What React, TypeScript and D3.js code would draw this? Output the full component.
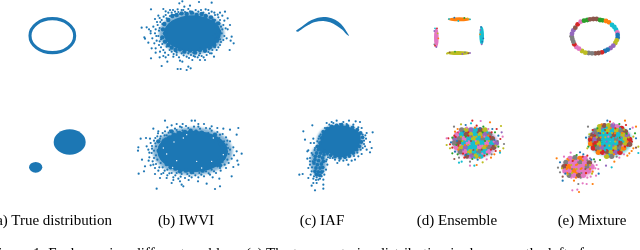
import React from "react";
import * as d3 from "d3";

type Pt = number[];

const BLUE = "#1f77b4";
const tab10 = d3.schemeCategory10;

// captions under each column
const captions = ["(a) True distribution", "(b) IWVI", "(c) IAF", "(d) Ensemble", "(e) Mixture"];
const figureNote = "Figure 1: Each row is a different problem. (a) The true posterior distribution is shown on the left of";

// (a) true distribution: [cx, cy, rx, ry]
const trueRing = [157, 107, 67, 51];
const trueBlobs = [
  [209, 51, 48, 38],
  [107, 127, 20, 16],
];

// (b) IWVI
const iwviTopHalo = [170, 100, 98, 64];
const iwviTopCore = [172, 100, 86, 54];
const iwviTopClumps: Pt[] = [
  [100, 60], [88, 72], [84, 88], [90, 100], [82, 112], [90, 125], [100, 135], [110, 143], [122, 150], [135, 148],
  [148, 155], [165, 152], [180, 158], [195, 150], [210, 152], [225, 142], [238, 135], [246, 120], [240, 108], [252, 95],
  [245, 82], [250, 70], [235, 62], [228, 52], [212, 48], [200, 42], [185, 45], [170, 38], [155, 42], [140, 40],
  [125, 45], [112, 48],
];
const iwviTopDots: Pt[] = [
  [48, 28], [20, 83], [35, 82], [28, 112], [30, 116], [40, 128], [48, 175], [80, 198], [128, 207], [137, 207],
  [160, 200], [167, 205], [155, 210], [133, 10], [142, 4], [192, 6], [230, 8], [148, 20], [165, 17], [255, 38],
  [270, 35], [262, 47], [278, 55], [285, 75], [272, 85], [278, 88], [290, 110], [275, 115], [287, 122], [296, 130],
  [284, 150], [237, 170], [195, 180], [210, 180], [172, 180], [142, 185], [135, 182], [97, 185], [74, 172], [85, 168],
  [62, 158], [50, 145], [42, 88], [60, 57], [70, 47], [85, 27], [105, 30], [120, 35], [140, 30], [160, 27],
  [190, 35], [220, 30], [230, 35], [240, 45], [55, 80], [47, 93], [47, 100], [60, 100], [52, 115], [65, 122],
  [72, 135], [85, 150], [100, 165], [115, 170], [155, 170], [180, 170], [200, 168], [225, 160], [245, 150], [255, 135],
  [265, 120], [260, 100], [265, 75], [255, 60], [245, 70], [80, 60], [92, 45], [110, 38], [128, 28], [150, 36],
  [175, 40], [205, 38], [215, 48], [228, 52], [240, 60], [250, 85], [255, 95], [248, 110], [255, 118], [240, 128],
  [235, 140], [222, 148], [210, 155], [195, 160], [175, 158], [160, 160], [140, 160], [125, 158], [110, 155], [95, 140],
  [82, 132], [78, 118], [70, 108], [72, 92], [68, 75], [82, 72], [95, 55], [105, 48], [118, 45], [135, 42],
  [58, 130], [62, 145], [75, 155], [92, 172], [125, 165], [168, 165], [188, 172], [215, 165], [232, 150], [248, 125],
  [76, 66], [74, 84], [62, 88], [64, 108], [74, 124], [78, 142], [90, 158], [104, 150], [116, 162], [132, 172],
  [146, 166], [162, 174], [176, 168], [192, 166], [206, 172], [220, 156], [230, 160], [240, 142], [250, 142], [258, 126],
  [268, 108], [262, 88], [258, 80], [268, 62], [250, 52], [238, 38], [222, 40], [198, 30], [182, 30], [165, 34],
  [145, 30], [130, 36], [114, 30], [100, 38], [86, 50], [74, 54], [92, 34], [212, 28], [248, 44], [66, 66],
];

const iwviBottomHalo = [188, 100, 120, 72];
const iwviBottomCore = [188, 100, 106, 62];
const iwviBottomClumps: Pt[] = [
  [100, 72], [92, 85], [86, 98], [92, 112], [100, 125], [110, 138], [122, 148], [136, 152], [150, 160], [168, 158],
  [185, 162], [200, 155], [218, 158], [235, 148], [250, 140], [265, 130], [275, 118], [282, 105], [278, 90], [272, 78],
  [258, 68], [245, 58], [232, 50], [215, 44], [198, 42], [182, 38], [165, 42], [148, 45], [132, 50], [118, 58],
  [108, 64], [270, 142], [125, 40], [85, 70], [255, 50],
];
const iwviBottomDots: Pt[] = [
  [105, 8], [185, 8], [195, 8], [140, 18], [158, 18], [205, 18], [222, 18], [70, 32], [85, 40], [32, 62],
  [48, 60], [60, 62], [25, 88], [24, 98], [50, 85], [36, 125], [45, 145], [42, 160], [26, 167], [75, 168],
  [90, 180], [80, 212], [125, 195], [150, 190], [155, 200], [160, 205], [204, 190], [230, 197], [255, 213], [270, 205],
  [268, 182], [305, 175], [310, 147], [325, 140], [322, 128], [320, 100], [335, 107], [325, 30], [320, 50], [300, 35],
  [280, 32], [310, 88], [262, 30], [245, 25], [112, 28], [125, 22], [98, 45], [82, 55], [72, 68], [62, 75],
  [55, 95], [65, 105], [58, 118], [68, 130], [62, 142], [75, 150], [85, 158], [100, 165], [112, 172], [130, 178],
  [145, 182], [165, 180], [185, 178], [205, 178], [222, 175], [240, 170], [258, 165], [272, 158], [288, 150], [296, 135],
  [305, 122], [296, 108], [312, 112], [300, 95], [290, 80], [300, 70], [288, 58], [278, 48], [262, 42], [245, 38],
  [228, 30], [210, 32], [192, 26], [175, 30], [155, 28], [135, 32], [120, 38], [105, 40], [92, 55], [85, 70],
  [78, 85], [72, 98], [78, 112], [82, 125], [92, 135], [98, 148], [112, 155], [125, 165], [140, 165], [155, 168],
  [172, 168], [190, 165], [208, 165], [228, 160], [245, 155], [262, 145], [278, 132], [285, 118], [282, 100], [275, 85],
  [282, 70], [268, 60], [255, 52], [235, 45], [218, 42], [198, 38], [178, 40], [158, 38], [142, 42], [128, 48],
  [110, 52], [100, 65], [92, 82], [88, 100], [95, 118], [105, 132], [120, 145], [135, 152], [250, 140], [268, 118],
  [150, 26], [168, 24], [205, 26], [240, 32], [270, 50], [292, 68], [294, 90], [290, 105], [292, 125], [284, 140],
  [270, 150], [252, 160], [236, 166], [214, 170], [196, 172], [178, 174], [152, 176], [136, 172], [118, 166], [104, 158],
  [88, 148], [78, 138], [72, 120], [66, 92], [76, 76], [90, 62], [104, 52], [116, 44], [140, 36], [76, 60],
  [84, 46], [66, 84], [58, 104], [56, 128], [70, 140], [94, 168], [110, 180], [130, 186], [176, 186], [248, 178],
];
const iwviBottomFlecks: Pt[] = [[132, 72], [140, 128], [245, 130], [110, 108], [250, 60], [128, 148], [200, 130], [160, 60], [100, 90], [280, 110], [215, 150], [170, 50]];

// (c) IAF: hand-read outlines of the dense parts, then the loose points
const iafArc: Pt[] = [
  [33, 78], [50, 65], [70, 50], [90, 41], [115, 36], [140, 40], [160, 50], [175, 65], [185, 80], [192, 92],
  [186, 89], [172, 74], [155, 62], [135, 52], [115, 48], [90, 51], [70, 60], [52, 71], [38, 80],
];
const iafBodyHalo = [150, 70, 70, 52];
const iafTailHalo = [85, 130, 24, 46];
const iafBody: Pt[] = [
  [98, 45], [118, 26], [150, 22], [186, 30], [208, 44], [212, 66], [202, 92], [180, 110], [150, 118], [126, 110],
  [106, 98], [86, 92], [92, 65],
];
const iafClumps: Pt[] = [
  [95, 60], [90, 75], [82, 85], [100, 42], [112, 32], [125, 25], [140, 22], [155, 20], [172, 24], [188, 28],
  [202, 35], [212, 45], [218, 58], [214, 72], [208, 85], [200, 95], [190, 105], [178, 114], [165, 118], [150, 120],
  [135, 116], [122, 112], [112, 105], [100, 100],
  [85, 95], [95, 95], [105, 100], [80, 105], [92, 105], [102, 110], [76, 115], [88, 115], [98, 120], [75, 125],
  [86, 128], [100, 130], [72, 135], [82, 140], [94, 138], [78, 150], [90, 150], [98, 148], [75, 160], [85, 162],
  [95, 162], [80, 170], [90, 172],
];
const iafDots: Pt[] = [
  [67, 22], [40, 40], [45, 65], [70, 62], [62, 75], [72, 75], [55, 97], [52, 100], [75, 90], [65, 105],
  [60, 120], [52, 122], [28, 170], [38, 168], [55, 180], [70, 195], [80, 195], [100, 200], [100, 212], [75, 217],
  [65, 203], [85, 185], [100, 185], [103, 170], [95, 175], [60, 140], [55, 150], [65, 160], [62, 170], [72, 175],
  [80, 178], [110, 15], [125, 12], [140, 8], [160, 12], [177, 8], [197, 10], [210, 12], [215, 30], [230, 45],
  [248, 43], [228, 62], [240, 72], [222, 78], [245, 90], [230, 95], [240, 103], [225, 85], [212, 95], [215, 108],
  [205, 115], [195, 125], [185, 128], [175, 140], [160, 128], [142, 135], [135, 125], [120, 120], [112, 110], [130, 15],
  [150, 18], [118, 20], [105, 30], [98, 40], [88, 55], [82, 70], [218, 50], [215, 70], [208, 85], [110, 125],
  [112, 140], [108, 155], [68, 130], [66, 148], [86, 172], [76, 168], [100, 160], [190, 20], [205, 28], [170, 18],
  [226, 52], [222, 68], [218, 90], [202, 104], [192, 114], [170, 126], [148, 128], [128, 120], [114, 118], [108, 130],
  [90, 182], [78, 186], [70, 182], [60, 130], [68, 110], [74, 96], [86, 62], [92, 50],
];

// (d) Ensemble: [x, y, colour index]
const ensembleBars = [
  [103, 43, 35, 6, 1],
  [34, 98, 7, 30, 6],
  [170, 92, 7, 28, 9],
  [100, 144, 36, 6, 8],
];
const ensembleTopDots: Pt[] = [
  [72, 42, 9], [135, 43, 9], [100, 48, 9], [88, 38, 0], [118, 39, 2], [128, 40, 8],
  [30, 70, 9], [36, 70, 3], [28, 78, 4], [38, 85, 8], [40, 100, 1], [28, 118, 7], [34, 126, 4], [30, 122, 3],
  [168, 66, 0], [166, 75, 4], [165, 88, 1], [172, 110, 0], [170, 118, 4], [175, 100, 0],
  [66, 146, 8], [74, 142, 5], [130, 145, 5], [135, 144, 4], [120, 142, 7], [112, 147, 4], [90, 140, 2],
];
const ensembleHalo = [120, 84, 68, 46, 4];
const ensembleCells: Pt[] = [
  [80, 45, 7], [94, 45, 8], [108, 45, 4], [122, 45, 9], [136, 45, 5], [150, 45, 8],
  [66, 58, 6], [80, 58, 9], [94, 58, 5], [108, 58, 8], [122, 58, 9], [136, 58, 8], [150, 58, 4], [164, 58, 7],
  [60, 71, 4], [74, 71, 7], [88, 71, 6], [102, 71, 9], [116, 71, 8], [130, 71, 9], [144, 71, 7], [158, 71, 9], [172, 71, 5],
  [58, 84, 7], [72, 84, 5], [86, 84, 9], [100, 84, 6], [114, 84, 9], [128, 84, 8], [142, 84, 9], [156, 84, 6], [170, 84, 9], [184, 84, 4],
  [64, 97, 6], [78, 97, 8], [92, 97, 4], [106, 97, 9], [120, 97, 9], [134, 97, 6], [148, 97, 8], [162, 97, 7], [176, 97, 5],
  [76, 110, 7], [90, 110, 6], [104, 110, 8], [118, 110, 9], [132, 110, 7], [146, 110, 9], [160, 110, 6],
  [96, 123, 5], [110, 123, 4], [124, 123, 8], [138, 123, 9],
];
const ensembleDots: Pt[] = [
  [112, 17, 3], [137, 18, 6], [165, 22, 1], [198, 33, 8], [78, 28, 8], [92, 30, 0], [108, 25, 9], [57, 35, 7],
  [68, 42, 1], [60, 50, 1], [125, 32, 3], [145, 35, 2], [160, 42, 6], [172, 42, 0], [185, 42, 3], [200, 52, 4],
  [180, 52, 2], [190, 62, 0], [203, 65, 6], [196, 72, 3], [207, 87, 7], [205, 100, 8], [190, 95, 2], [195, 108, 1],
  [195, 113, 9], [182, 108, 3], [178, 118, 1], [168, 128, 1], [155, 133, 6], [143, 142, 8], [125, 150, 1], [118, 152, 9],
  [105, 152, 6], [105, 140, 7], [80, 140, 9], [72, 143, 9], [58, 132, 5], [72, 128, 7], [88, 128, 3], [52, 115, 2],
  [45, 88, 3], [35, 90, 8], [45, 100, 8], [40, 70, 3], [35, 70, 6], [52, 68, 2], [48, 82, 0], [52, 98, 3],
  [60, 110, 0], [68, 118, 2], [112, 132, 2], [128, 134, 0], [148, 122, 3], [170, 118, 7], [58, 62, 3], [70, 52, 3],
  [95, 38, 6], [120, 38, 1], [135, 40, 0], [100, 62, 3], [140, 66, 1], [122, 78, 6], [90, 90, 1], [155, 92, 1],
  [115, 105, 5], [130, 90, 4], [110, 64, 7], [150, 78, 2], [80, 78, 2], [70, 92, 3], [165, 65, 3], [178, 75, 0],
  [72, 50, 6], [86, 50, 0], [100, 52, 3], [115, 52, 9], [128, 52, 5], [143, 52, 2], [157, 52, 9], [170, 52, 3],
  [62, 66, 3], [78, 65, 8], [92, 65, 2], [106, 65, 4], [124, 65, 8], [134, 65, 9], [148, 65, 6], [160, 62, 1],
  [66, 78, 0], [82, 78, 8], [96, 78, 9], [108, 78, 5], [136, 78, 9], [162, 78, 8], [176, 80, 6], [188, 78, 7],
  [64, 90, 2], [76, 90, 6], [100, 90, 8], [112, 92, 9], [142, 92, 6], [168, 92, 4], [182, 92, 8], [70, 104, 1],
  [84, 104, 4], [98, 104, 9], [126, 104, 8], [140, 104, 5], [154, 104, 9], [168, 104, 3], [84, 116, 3], [100, 117, 9],
  [114, 117, 7], [128, 116, 9], [142, 116, 6], [156, 118, 2], [104, 128, 6], [118, 128, 9], [134, 128, 1], [92, 120, 0],
];

// (e) Mixture
const mixtureRing: Pt[] = [
  [100, 42, 5], [110, 42, 5], [120, 45, 2], [128, 46, 2], [138, 48, 1], [147, 52, 1], [156, 60, 9], [163, 66, 9],
  [168, 74, 9], [172, 82, 6], [173, 90, 0], [173, 98, 0], [170, 106, 8], [166, 114, 8], [160, 122, 4], [152, 129, 4],
  [143, 134, 0], [135, 138, 0], [126, 142, 3], [116, 144, 5], [106, 145, 5], [96, 145, 7], [86, 144, 7], [76, 143, 8],
  [66, 138, 8], [57, 131, 6], [49, 126, 6], [43, 118, 3], [40, 110, 7], [37, 102, 7], [35, 94, 7], [36, 86, 4],
  [40, 76, 4], [46, 68, 5], [53, 58, 3], [62, 50, 6], [72, 47, 2], [82, 45, 2], [90, 43, 5],
];
const mixtureHalos = [
  [180, 76, 66, 48, 9],
  [84, 157, 48, 32, 6],
];
const mixtureUpperCells: Pt[] = [
  [150, 35, 8], [163, 32, 5], [176, 32, 8], [189, 32, 4], [202, 35, 6], [215, 40, 3],
  [135, 48, 7], [148, 46, 8], [161, 46, 9], [174, 46, 8], [187, 46, 9], [200, 46, 8], [213, 48, 7], [226, 50, 5],
  [128, 60, 5], [141, 60, 7], [154, 60, 9], [167, 60, 9], [180, 60, 9], [193, 60, 5], [206, 60, 9], [219, 60, 8], [232, 62, 4],
  [122, 73, 3], [135, 73, 4], [148, 73, 5], [161, 73, 9], [174, 73, 9], [187, 73, 9], [200, 73, 7], [213, 73, 9], [226, 73, 8], [239, 73, 3],
  [122, 86, 1], [135, 86, 3], [148, 86, 8], [161, 86, 9], [174, 86, 9], [187, 86, 9], [200, 86, 9], [213, 86, 5], [226, 86, 8], [239, 88, 5],
  [130, 99, 3], [143, 99, 7], [156, 99, 4], [169, 99, 9], [182, 99, 9], [195, 99, 8], [208, 99, 7], [221, 99, 1],
  [145, 112, 1], [158, 112, 3], [171, 112, 5], [184, 112, 8], [197, 112, 4], [210, 112, 3],
  [170, 124, 8], [185, 124, 7],
];
const mixtureLowerCells: Pt[] = [
  [60, 130, 6], [75, 128, 7], [90, 130, 1], [105, 130, 6],
  [48, 142, 7], [62, 142, 6], [76, 142, 6], [90, 142, 7], [104, 142, 6], [118, 144, 5],
  [42, 155, 5], [56, 155, 1], [70, 155, 6], [84, 155, 6], [98, 155, 6], [112, 155, 7], [126, 155, 6],
  [45, 168, 6], [59, 168, 6], [73, 168, 1], [87, 168, 6], [101, 168, 6], [115, 168, 6],
  [58, 181, 7], [72, 181, 6], [86, 181, 5], [100, 181, 6],
];
const mixtureDots: Pt[] = [
  [172, 17, 0], [180, 20, 3], [225, 17, 1], [114, 35, 7], [145, 32, 8], [155, 28, 1], [190, 25, 6], [208, 27, 2],
  [228, 30, 3], [240, 42, 0], [248, 38, 6], [258, 35, 1], [255, 55, 2], [250, 65, 8], [258, 70, 0], [265, 95, 8],
  [258, 98, 5], [250, 100, 1], [265, 114, 9], [245, 108, 1], [238, 115, 1], [232, 122, 1], [222, 118, 6], [208, 128, 6],
  [200, 125, 7], [193, 140, 1], [185, 157, 9], [168, 152, 4], [150, 135, 2], [132, 133, 2], [120, 130, 4], [112, 122, 3],
  [108, 68, 0], [118, 58, 8], [118, 78, 3], [115, 95, 2], [112, 100, 8], [100, 118, 0], [90, 112, 0], [62, 113, 6],
  [42, 125, 6], [20, 130, 1], [30, 142, 0], [24, 158, 7], [30, 172, 7], [38, 185, 5], [38, 197, 0], [53, 178, 8],
  [72, 197, 1], [85, 207, 7], [98, 205, 6], [110, 207, 6], [128, 207, 1], [67, 226, 6], [82, 224, 6], [87, 231, 1],
  [112, 188, 6], [122, 185, 6], [138, 182, 6], [146, 176, 0], [145, 162, 6], [140, 150, 6], [135, 140, 7], [128, 170, 1],
  [80, 120, 2], [98, 125, 3], [52, 132, 1], [70, 135, 1], [82, 148, 1], [95, 160, 1], [60, 160, 1], [108, 175, 1],
  [150, 55, 3], [165, 45, 5], [175, 65, 6], [195, 55, 1], [210, 68, 2], [190, 92, 4], [155, 80, 2], [135, 62, 3],
  [170, 105, 3], [205, 105, 0], [225, 95, 3], [235, 55, 6], [128, 45, 3], [118, 65, 7],
  [142, 40, 2], [156, 40, 4], [170, 38, 9], [182, 40, 1], [196, 40, 3], [210, 40, 9], [222, 44, 8], [130, 54, 4],
  [146, 54, 0], [160, 54, 8], [172, 54, 3], [186, 54, 8], [202, 54, 9], [216, 54, 1], [230, 56, 2], [124, 67, 1],
  [140, 67, 8], [152, 67, 1], [166, 67, 8], [184, 67, 5], [198, 67, 9], [214, 67, 4], [236, 67, 8], [128, 80, 7],
  [142, 80, 3], [156, 80, 9], [170, 80, 4], [196, 80, 8], [208, 80, 3], [220, 80, 9], [232, 80, 1], [246, 80, 3],
  [136, 92, 2], [150, 92, 1], [164, 92, 5], [178, 92, 8], [204, 92, 5], [218, 92, 6], [232, 92, 3], [138, 106, 5],
  [152, 106, 8], [166, 106, 9], [190, 106, 3], [214, 106, 8], [164, 118, 6], [178, 118, 9], [192, 118, 1],
  [56, 136, 1], [68, 138, 3], [84, 136, 6], [98, 136, 1], [112, 136, 7], [48, 150, 3], [64, 150, 8], [78, 150, 1],
  [92, 150, 6], [108, 150, 1], [120, 150, 8], [36, 160, 8], [50, 162, 1], [66, 162, 7], [80, 162, 8], [92, 162, 1],
  [106, 162, 5], [120, 162, 1], [136, 160, 6], [52, 174, 1], [66, 174, 8], [80, 174, 1], [94, 174, 7], [108, 174, 3],
  [64, 188, 6], [78, 188, 1], [92, 188, 7], [46, 176, 0], [126, 176, 8], [124, 134, 0],
];

// each panel's numbers are read in their own units, three per pixel
const panel = (left: number, top: number, w: number, h: number) => ({
  x: d3.scaleLinear().domain([0, w * 3]).range([left, left + w]),
  y: d3.scaleLinear().domain([0, h * 3]).range([top, top + h]),
});

const pA1 = panel(0, 0, 320, 125);
const pA2 = panel(0, 125, 320, 125);
const pB1 = panel(135, 0, 105, 75);
const pB2 = panel(130, 118, 115, 75);
const pC1 = panel(285, 5, 80, 40);
const pC2 = panel(290, 118, 90, 75);
const pD1 = panel(425, 5, 80, 65);
const pD2 = panel(435, 115, 80, 60);
const pE1 = panel(560, 5, 75, 65);
const pE2 = panel(550, 115, 90, 80);

type P = typeof pA1;

const outline = d3.line().curve(d3.curveCatmullRomClosed);

const Ell = ({ p, d, fill, stroke, opacity }: { p: P; d: number[]; fill: string; stroke?: string; opacity?: number }) => (
  <ellipse
    cx={p.x(d[0])}
    cy={p.y(d[1])}
    rx={p.x(d[2]) - p.x(0)}
    ry={p.y(d[3]) - p.y(0)}
    fill={stroke ? "none" : fill}
    stroke={stroke}
    strokeWidth={stroke ? 3.1 : 0}
    opacity={opacity}
  />
);

const Dots = ({ p, d, r, color }: { p: P; d: Pt[]; r: number; color?: string }) => (
  <>
    {d.map((v, i) => (
      <circle key={i} cx={p.x(v[0])} cy={p.y(v[1])} r={r} fill={color ?? tab10[v[2]]} />
    ))}
  </>
);

const Shape = ({ p, d }: { p: P; d: Pt[] }) => (
  <path d={outline(d.map((v) => [p.x(v[0]), p.y(v[1])]) as [number, number][]) ?? ""} fill={BLUE} />
);

export default function App() {
  return (
    <svg
      width={640}
      height={250}
      style={{ position: "absolute", left: 0, top: 0, background: "#fff" }}
      fontFamily="'Liberation Serif', serif"
    >
      <defs>
        <filter id="soft" x="-5%" y="-5%" width="110%" height="110%">
          <feGaussianBlur stdDeviation="0.35" />
        </filter>
        <filter id="softText" x="-5%" y="-5%" width="110%" height="110%">
          <feGaussianBlur stdDeviation="0.25" />
        </filter>
        <filter id="halo" x="-5%" y="-5%" width="110%" height="110%">
          <feGaussianBlur stdDeviation="1.2" />
        </filter>
      </defs>

      {/* density under the loose points */}
      <g filter="url(#halo)">
        <Ell p={pB1} d={iwviTopHalo} fill={BLUE} opacity={0.55} />
        <Ell p={pB2} d={iwviBottomHalo} fill={BLUE} opacity={0.55} />
        <Ell p={pC2} d={iafBodyHalo} fill={BLUE} opacity={0.6} />
        <Ell p={pC2} d={iafTailHalo} fill={BLUE} opacity={0.6} />
        <Ell p={pD2} d={ensembleHalo} fill={tab10[ensembleHalo[4]]} opacity={0.6} />
        {mixtureHalos.map((b, i) => (
          <Ell key={i} p={pE2} d={b} fill={tab10[b[4]]} opacity={0.6} />
        ))}
      </g>

      <g filter="url(#soft)">
        <Ell p={pA1} d={trueRing} fill="none" stroke={BLUE} />
        {trueBlobs.map((b, i) => (
          <Ell key={i} p={pA2} d={b} fill={BLUE} />
        ))}

        <Ell p={pB1} d={iwviTopCore} fill={BLUE} />
        <Dots p={pB1} d={iwviTopClumps} r={2.2} color={BLUE} />
        <Dots p={pB1} d={iwviTopDots} r={1.1} color={BLUE} />
        <Ell p={pB2} d={iwviBottomCore} fill={BLUE} />
        <Dots p={pB2} d={iwviBottomClumps} r={2.2} color={BLUE} />
        <Dots p={pB2} d={iwviBottomDots} r={1.1} color={BLUE} />
        <Dots p={pB2} d={iwviBottomFlecks} r={0.7} color="#fff" />

        <Shape p={pC1} d={iafArc} />
        <Shape p={pC2} d={iafBody} />
        <Dots p={pC2} d={iafClumps} r={1.9} color={BLUE} />
        <Dots p={pC2} d={iafDots} r={1.1} color={BLUE} />

        {ensembleBars.map((b, i) => (
          <Ell key={i} p={pD1} d={b} fill={tab10[b[4]]} />
        ))}
        <Dots p={pD1} d={ensembleTopDots} r={0.9} />
        <Dots p={pD2} d={ensembleCells} r={2.7} />
        <Dots p={pD2} d={ensembleDots} r={1.1} />

        <Dots p={pE1} d={mixtureRing} r={2.4} />
        <Dots p={pE2} d={mixtureLowerCells} r={2.7} />
        <Dots p={pE2} d={mixtureUpperCells} r={2.7} />
        <Dots p={pE2} d={mixtureDots} r={1.1} />
      </g>

      <g fontSize={15} fill="#000" filter="url(#softText)">
        <text x={112} y={225} textAnchor="end">{captions[0]}</text>
        <text x={186} y={225} textAnchor="middle">{captions[1]}</text>
        <text x={322} y={225} textAnchor="middle">{captions[2]}</text>
        <text x={457} y={225} textAnchor="middle">{captions[3]}</text>
        <text x={592} y={225} textAnchor="middle">{captions[4]}</text>
        <text x={-10} y={257.5}>{figureNote}</text>
      </g>
    </svg>
  );
}
